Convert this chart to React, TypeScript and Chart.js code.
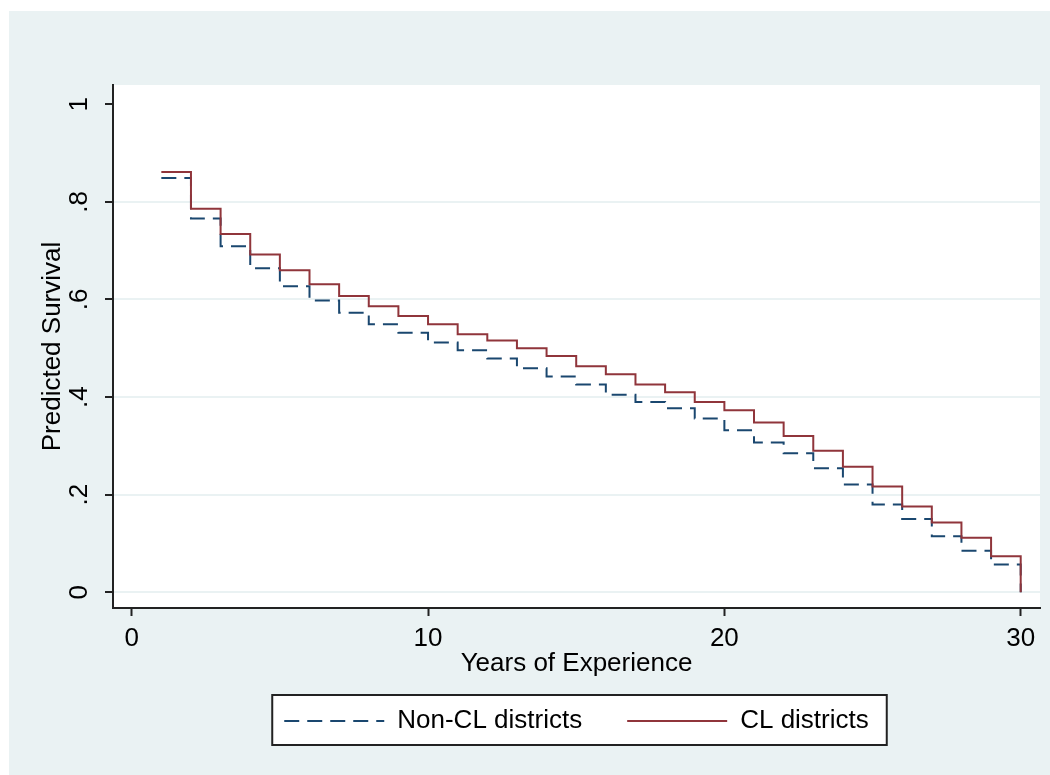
import React, { useEffect, useRef } from 'react';
import { Chart, registerables } from 'chart.js';

Chart.register(...registerables);

// ---- data ----
const years = [1, 2, 3, 4, 5, 6, 7, 8, 9, 10, 11, 12, 13, 14, 15, 16, 17, 18, 19, 20, 21, 22, 23, 24, 25, 26, 27, 28, 29, 30];
const nonCLDistricts = [0.849, 0.766, 0.709, 0.664, 0.627, 0.598, 0.573, 0.549, 0.532, 0.512, 0.496, 0.479, 0.459, 0.442, 0.426, 0.405, 0.39, 0.377, 0.356, 0.332, 0.307, 0.285, 0.254, 0.221, 0.18, 0.15, 0.115, 0.085, 0.057, 0.0];
const clDistricts = [0.861, 0.786, 0.734, 0.692, 0.66, 0.631, 0.607, 0.586, 0.566, 0.549, 0.529, 0.516, 0.5, 0.484, 0.463, 0.447, 0.426, 0.41, 0.39, 0.373, 0.348, 0.32, 0.29, 0.257, 0.217, 0.176, 0.143, 0.112, 0.074, 0.0];
const seriesLabels = ['Non-CL districts', 'CL districts'];
const xTickValues = [0, 10, 20, 30];
const yTickValues = [0, 0.2, 0.4, 0.6, 0.8, 1];
const yTickLabels = ['0', '.2', '.4', '.6', '.8', '1'];
const xTitle = 'Years of Experience';
const yTitle = 'Predicted Survival';

const BG = '#EAF2F3';
const AXIS = '#222222';
const NAVY = '#1A476F';
const MAROON = '#90353B';
const FAMILY = "'Liberation Sans', Arial, Helvetica, sans-serif";
const FS = 26;

const backgroundPlugin = {
  id: 'stataBackground',
  beforeDraw(chart: any) {
    const { ctx, width, height, chartArea } = chart;
    ctx.save();
    ctx.fillStyle = '#ffffff';
    ctx.fillRect(0, 0, width, height);
    ctx.fillStyle = BG;
    ctx.fillRect(9, 11, width - 9, height - 11);
    ctx.fillStyle = '#ffffff';
    ctx.fillRect(chartArea.left, chartArea.top, chartArea.right - chartArea.left, chartArea.bottom - chartArea.top);
    const lg = chart.legend;
    if (lg && lg.legendHitBoxes && lg.legendHitBoxes.length) {
      const hb = lg.legendHitBoxes;
      const l = Math.min(...hb.map((h: any) => h.left)) - 12;
      const r = Math.max(...hb.map((h: any) => h.left + h.width)) + 18;
      const t = Math.min(...hb.map((h: any) => h.top)) - 13;
      const b = Math.max(...hb.map((h: any) => h.top + h.height)) + 11;
      ctx.fillStyle = '#ffffff';
      ctx.fillRect(l, t, r - l, b - t);
      ctx.lineWidth = 2;
      ctx.strokeStyle = AXIS;
      ctx.strokeRect(l, t, r - l, b - t);
    }
    ctx.restore();
  },
};

export default function App() {
  const canvasRef = useRef<HTMLCanvasElement | null>(null);

  useEffect(() => {
    if (!canvasRef.current) return;
    const font = { family: FAMILY, size: FS };
    const chart = new Chart(canvasRef.current, {
      type: 'line',
      data: {
        datasets: [
          {
            label: seriesLabels[1],
            data: years.map((x, i) => ({ x, y: clDistricts[i] })),
            borderColor: MAROON,
            backgroundColor: MAROON,
            borderWidth: 2,
            stepped: 'before',
            pointRadius: 0,
            fill: false,
          },
          {
            label: seriesLabels[0],
            data: years.map((x, i) => ({ x, y: nonCLDistricts[i] })),
            borderColor: NAVY,
            backgroundColor: NAVY,
            borderWidth: 2,
            borderDash: [15, 8],
            stepped: 'before',
            pointRadius: 0,
            fill: false,
          },
        ],
      },
      options: {
        animation: false,
        responsive: false,
        events: [],
        layout: { padding: { left: 0, top: 85, right: 10, bottom: 31 } },
        plugins: {
          tooltip: { enabled: false },
          title: { display: false },
          legend: {
            display: true,
            position: 'bottom',
            fullSize: false,
            reverse: true,
            labels: {
              font,
              color: '#000000',
              usePointStyle: true,
              pointStyle: 'line',
              pointStyleWidth: 100,
              boxHeight: 10,
              padding: 45,
              generateLabels: (ch: any) => {
                const items = (Chart.defaults as any).plugins.legend.labels.generateLabels(ch);
                return items.map((it: any) => {
                  const ds: any = ch.data.datasets[it.datasetIndex];
                  return {
                    ...it,
                    lineDash: ds.borderDash || [],
                    lineWidth: 2,
                    strokeStyle: ds.borderColor,
                    fillStyle: ds.borderColor,
                    pointStyle: 'line',
                  };
                });
              },
            },
          },
        },
        scales: {
          x: {
            type: 'linear',
            min: -0.631,
            max: 30.651,
            afterBuildTicks: (s: any) => {
              s.ticks = xTickValues.map((v) => ({ value: v }));
            },
            afterFit: (s: any) => {
              s.height = 55;
            },
            grid: { drawOnChartArea: false, drawTicks: true, tickLength: 8, tickColor: AXIS, tickWidth: 2 },
            border: { display: true, color: AXIS, width: 2 },
            ticks: {
              font,
              color: '#000000',
              padding: 7,
              maxRotation: 0,
              autoSkip: false,
              callback: (v: any) => String(v),
            },
            title: { display: true, text: xTitle, font, color: '#000000', padding: { top: 0, bottom: -16.6 } },
          },
          y: {
            type: 'linear',
            min: -0.0322,
            max: 1.0395,
            afterBuildTicks: (s: any) => {
              s.ticks = yTickValues.map((v) => ({ value: v }));
            },
            afterFit: (s: any) => {
              s.width = 113;
            },
            grid: {
              color: (c: any) => (c.tick && c.tick.value === 1 ? 'rgba(0,0,0,0)' : BG),
              lineWidth: 2,
              drawTicks: true,
              tickLength: 8,
              tickColor: AXIS,
              tickWidth: 2,
            },
            border: { display: true, color: AXIS, width: 2 },
            ticks: {
              font,
              color: '#000000',
              padding: 14,
              minRotation: 90,
              maxRotation: 90,
              crossAlign: 'center',
              autoSkip: false,
              callback: (_v: any, i: number) => yTickLabels[i],
            },
            title: { display: true, text: yTitle, font, color: '#000000', padding: { top: 37.4, bottom: 0 } },
          },
        },
      } as any,
      plugins: [backgroundPlugin],
    });
    return () => chart.destroy();
  }, []);

  return (
    <div style={{ position: 'fixed', left: 0, top: 0, width: 1050, height: 775 }}>
      <canvas ref={canvasRef} width={1050} height={775} style={{ display: 'block' }} />
    </div>
  );
}
